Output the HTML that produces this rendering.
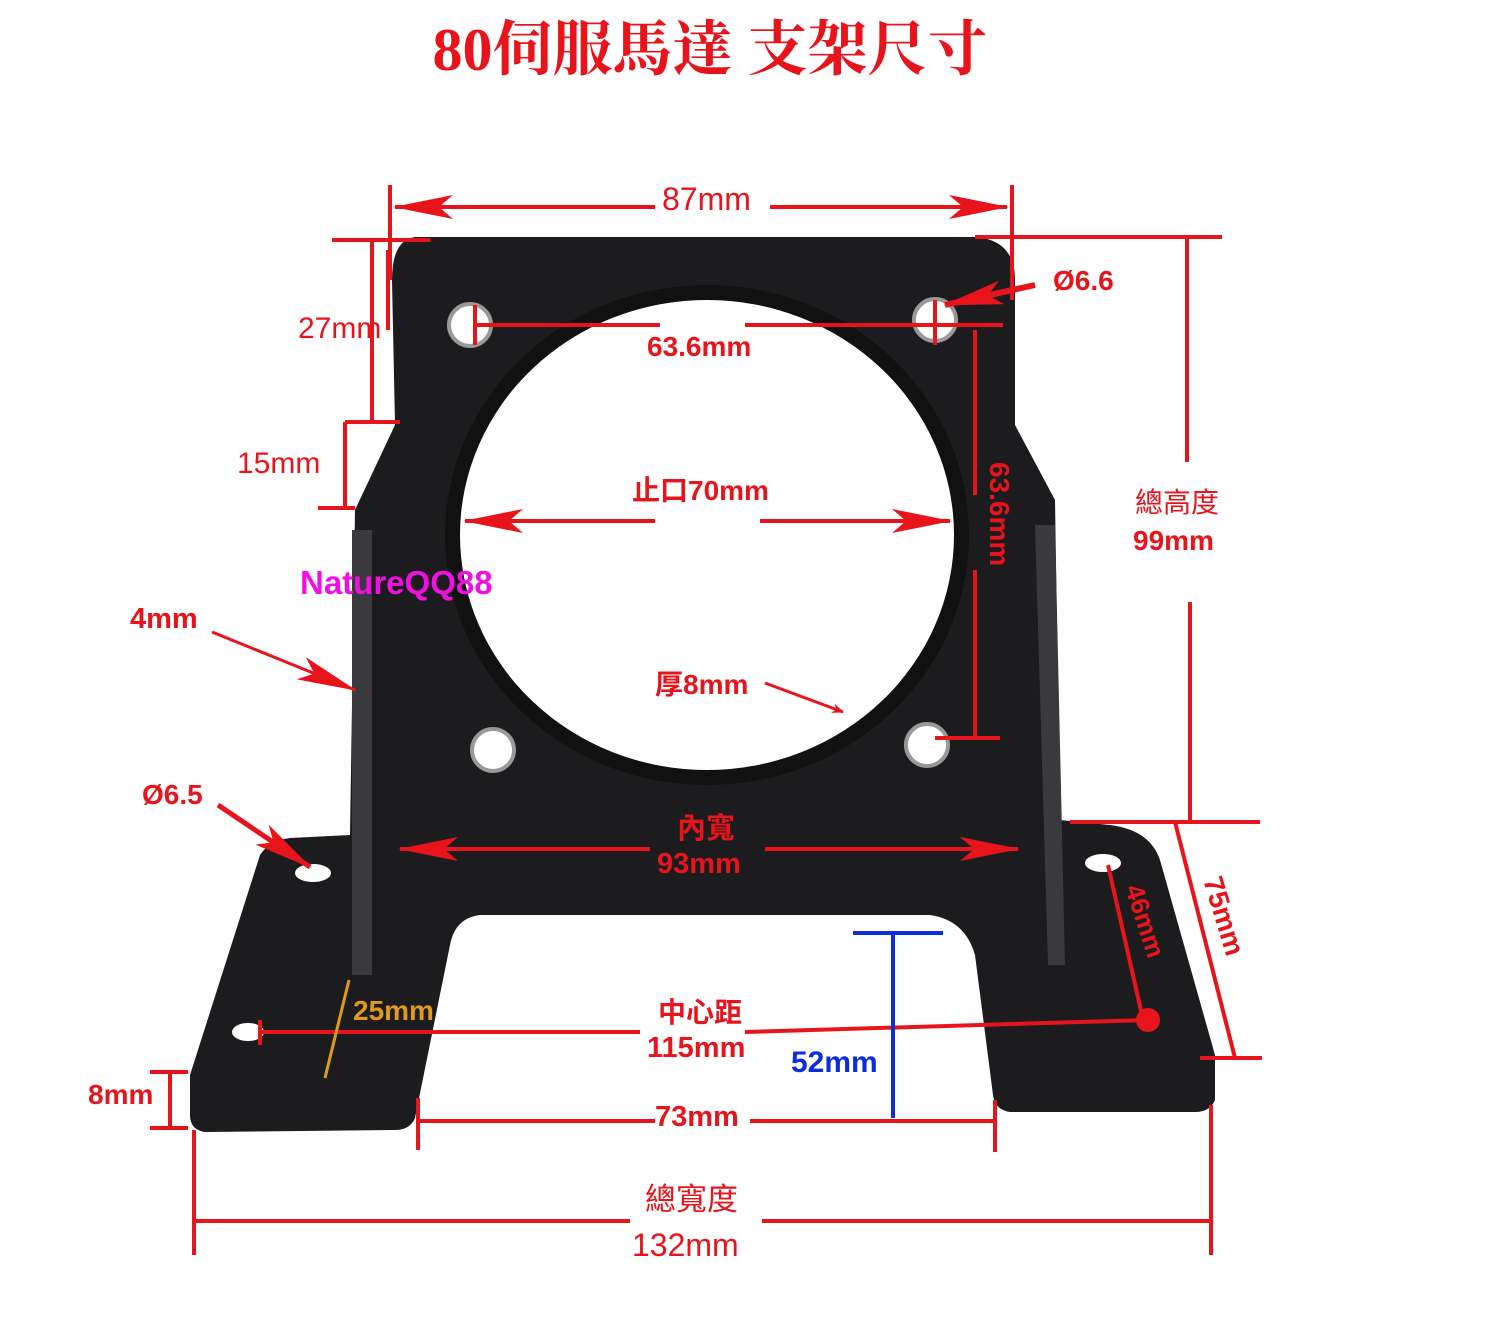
<!DOCTYPE html>
<html><head><meta charset="utf-8"><style>
html,body{margin:0;padding:0;background:#fff;}
svg{display:block}
text{font-family:"Liberation Sans","Noto Sans CJK TC",sans-serif;}
</style></head><body>
<svg width="1500" height="1320" viewBox="0 0 1500 1320" xmlns="http://www.w3.org/2000/svg">
<defs>
<marker id="ar" markerWidth="12" markerHeight="10" refX="11" refY="5" orient="auto" markerUnits="userSpaceOnUse" viewBox="0 0 12 10"><path d="M0,0 L12,5 L0,10 L4,5 Z" fill="#e8141c"/></marker>
<marker id="big" viewBox="0 0 60 24" refX="58" refY="12" markerWidth="60" markerHeight="24" orient="auto" markerUnits="userSpaceOnUse"><path d="M0,0 L60,12 L0,24 L14,12 Z" fill="#e8141c"/></marker>
</defs>
<text x="710" y="70" text-anchor="middle" font-weight="bold" font-size="60" fill="#e8141c" style="font-family:'Liberation Serif','Noto Serif CJK SC',serif">80伺服馬達 支架尺寸</text>

<path d="M415 237 L975 237 Q1015 240 1015 280 L1015 425 L1055 500 L1060 820 L1110 825 Q1150 830 1160 860 L1215 1055 L1215 1100 Q1210 1112 1195 1112 L1010 1112 Q995 1110 993 1095 L975 955 Q965 920 930 915 L480 915 Q455 918 450 945 L415 1118 Q410 1130 395 1130 L205 1132 Q190 1130 190 1115 L190 1075 L260 855 Q270 840 290 838 L350 835 L355 510 L395 425 L392 280 Q392 240 415 237 Z" fill="#1c1c1e"/>
<path d="M352 530 L372 530 L372 975 L352 975 Z" fill="#3a3a3c"/>
<path d="M1035 525 L1055 525 L1065 965 L1048 965 Z" fill="#3a3a3c"/>
<ellipse cx="707" cy="535" rx="262" ry="250" fill="#111"/>
<ellipse cx="707" cy="535" rx="247" ry="235" fill="#fff"/>
<g fill="#fff" stroke="#999" stroke-width="4">
<circle cx="470" cy="325" r="21"/>
<circle cx="935" cy="320" r="21"/>
<circle cx="493" cy="750" r="21"/>
<circle cx="927" cy="745" r="21"/>
</g>
<ellipse cx="313" cy="873" rx="18" ry="9" fill="#fff"/>
<ellipse cx="1103" cy="863" rx="18" ry="9" fill="#fff"/>
<ellipse cx="248" cy="1032" rx="16" ry="9" fill="#fff"/>
<circle cx="1148" cy="1020" r="12" fill="#e8141c"/>

<g stroke="#e8141c" stroke-width="4" fill="none">
<line x1="390" y1="185" x2="390" y2="280"/><line x1="1012" y1="185" x2="1012" y2="300"/>
<line x1="655" y1="207" x2="395" y2="207" marker-end="url(#big)"/>
<line x1="770" y1="207" x2="1007" y2="207" marker-end="url(#big)"/>
<line x1="332" y1="240" x2="430" y2="240"/><line x1="372" y1="240" x2="372" y2="422"/>
<line x1="345" y1="422" x2="400" y2="422"/><line x1="345" y1="422" x2="345" y2="508"/>
<line x1="318" y1="508" x2="355" y2="508"/><line x1="388" y1="250" x2="388" y2="330"/>
<line x1="475" y1="325" x2="660" y2="325"/><line x1="745" y1="325" x2="1003" y2="325"/>
<line x1="475" y1="305" x2="475" y2="345"/><line x1="935" y1="300" x2="935" y2="345"/>
<line x1="975" y1="330" x2="975" y2="495"/><line x1="975" y1="570" x2="975" y2="738"/>
<line x1="935" y1="738" x2="1000" y2="738"/>
<line x1="1035" y1="285" x2="945" y2="305" marker-end="url(#big)" stroke-width="6"/>
<line x1="975" y1="237" x2="1222" y2="237"/><line x1="1187" y1="237" x2="1187" y2="462"/>
<line x1="1190" y1="602" x2="1190" y2="822"/><line x1="1070" y1="822" x2="1260" y2="822"/>
<line x1="655" y1="521" x2="465" y2="521" marker-end="url(#big)"/>
<line x1="760" y1="521" x2="950" y2="521" marker-end="url(#big)"/>
<line x1="212" y1="632" x2="355" y2="690" marker-end="url(#big)" stroke-width="3"/>
<line x1="765" y1="683" x2="843" y2="712" marker-end="url(#ar)" stroke-width="3"/>
<line x1="218" y1="805" x2="310" y2="867" marker-end="url(#big)" stroke-width="5"/>
<line x1="650" y1="849" x2="400" y2="849" marker-end="url(#big)"/>
<line x1="765" y1="849" x2="1018" y2="849" marker-end="url(#big)"/>
<line x1="1175" y1="822" x2="1235" y2="1058"/><line x1="1200" y1="1058" x2="1262" y2="1058"/>
<line x1="1108" y1="865" x2="1142" y2="1015"/>
<line x1="260" y1="1020" x2="260" y2="1045"/>
<line x1="260" y1="1032" x2="640" y2="1032"/>
<line x1="745" y1="1032" x2="1148" y2="1020"/>
<line x1="150" y1="1072" x2="188" y2="1072"/><line x1="150" y1="1128" x2="188" y2="1128"/>
<line x1="170" y1="1072" x2="170" y2="1128"/>
<line x1="418" y1="1098" x2="418" y2="1150"/><line x1="995" y1="1100" x2="995" y2="1152"/>
<line x1="418" y1="1121" x2="655" y2="1121"/><line x1="750" y1="1121" x2="995" y2="1121"/>
<line x1="194" y1="1130" x2="194" y2="1255"/><line x1="1211" y1="1105" x2="1211" y2="1255"/>
<line x1="194" y1="1221" x2="630" y2="1221"/><line x1="762" y1="1221" x2="1211" y2="1221"/>
</g>
<g stroke="#0a2de0" stroke-width="4"><line x1="853" y1="933" x2="943" y2="933"/><line x1="893" y1="933" x2="893" y2="1118"/></g>
<line x1="349" y1="980" x2="325" y2="1078" stroke="#e09a1a" stroke-width="3"/>

<g fill="#e8141c" font-size="30">
<text x="662" y="210" font-size="32">87mm</text>
<text x="298" y="338" font-size="30">27mm</text>
<text x="237" y="473" font-size="30">15mm</text>
<text x="1053" y="290" font-weight="bold" font-size="28">Ø6.6</text>
<text x="647" y="356" font-weight="bold" font-size="28">63.6mm</text>
<text x="632" y="500" font-weight="bold" font-size="28">止口70mm</text>
<text x="1135" y="512" font-size="28">總高度</text>
<text x="1133" y="550" font-weight="bold" font-size="28">99mm</text>
<text x="130" y="628" font-weight="bold" font-size="29">4mm</text>
<text x="655" y="694" font-weight="bold" font-size="28">厚8mm</text>
<text x="142" y="804" font-weight="bold" font-size="28">Ø6.5</text>
<text x="677" y="838" font-weight="bold" font-size="29">內寬</text>
<text x="657" y="873" font-weight="bold" font-size="29">93mm</text>
<text x="658" y="1022" font-weight="bold" font-size="28">中心距</text>
<text x="647" y="1057" font-weight="bold" font-size="29">115mm</text>
<text x="88" y="1104" font-weight="bold" font-size="28">8mm</text>
<text x="655" y="1126" font-weight="bold" font-size="29">73mm</text>
<text x="645" y="1210" font-size="31">總寬度</text>
<text x="632" y="1256" font-size="32">132mm</text>
<text transform="translate(990,462) rotate(90)" font-weight="bold" font-size="28">63.6mm</text>
<text transform="translate(1125,888) rotate(72)" font-weight="bold" font-size="26">46mm</text>
<text transform="translate(1203,880) rotate(73)" font-weight="bold" font-size="28">75mm</text>
</g>
<text x="791" y="1072" fill="#0a2de0" font-weight="bold" font-size="30">52mm</text>
<text x="353" y="1020" fill="#e09a1a" font-weight="bold" font-size="28">25mm</text>
<text x="300" y="594" fill="#f010e0" font-weight="bold" font-size="33">NatureQQ88</text>
</svg>
</body></html>
